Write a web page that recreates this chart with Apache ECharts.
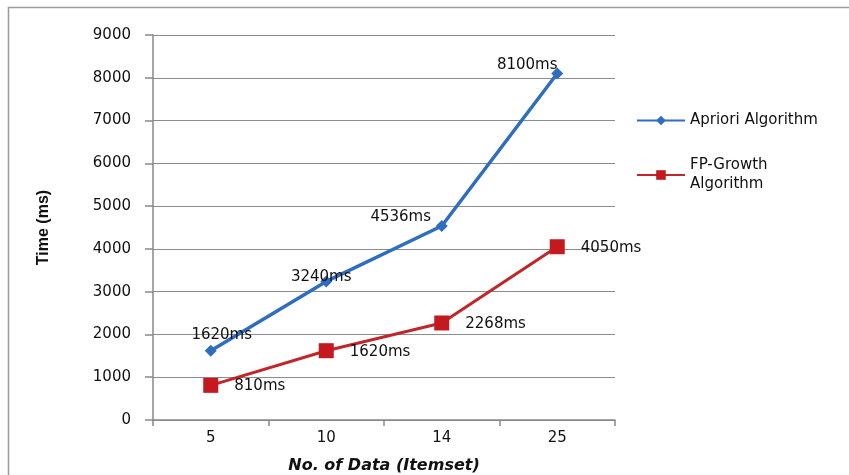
<!DOCTYPE html>
<html>
<head>
<meta charset="utf-8">
<script src="https://cdn.jsdelivr.net/npm/echarts@6/dist/echarts.min.js"></script>
<style>html,body{margin:0;padding:0;background:#fff}#c{width:849px;height:475px}</style>
</head>
<body>
<div id="c"></div>
<script>
var categories = ['5', '10', '14', '25'];
var aprioriValues = [1620, 3240, 4536, 8100];
var fpGrowthValues = [810, 1620, 2268, 4050];
var yTicks = { min: 0, max: 9000, interval: 1000 };
var aprioriLabelOffsets = [[11, 3], [-5, 14], [-41, 10], [-30, 10]];

var FONT = 'DejaVu Sans';
var chart = echarts.init(document.getElementById('c'), null, { renderer: 'canvas' });

function lbl(v) { return v + 'ms'; }

var aprData = aprioriValues.map(function (v, i) {
  return { value: v, label: { offset: aprioriLabelOffsets[i] } };
});

chart.setOption({
  animation: false,
  backgroundColor: '#fff',
  grid: { left: 153, right: 234, top: 35, bottom: 55, containLabel: false, outerBoundsMode: 'none' },
  graphic: [{
    type: 'rect', shape: { x: 8.5, y: 7.5, width: 900, height: 600 },
    style: { fill: 'none', stroke: '#9a9a9a', lineWidth: 1.5 }, silent: true
  }],
  legend: {
    orient: 'vertical', left: 631, top: 106, itemGap: 26,
    itemWidth: 48, itemHeight: 12,
    textStyle: { fontFamily: FONT, fontSize: 15, color: '#111', lineHeight: 19 },
    formatter: function (n) { return n === 'FP-Growth Algorithm' ? 'FP-Growth\nAlgorithm' : n; },
    data: ['Apriori Algorithm', 'FP-Growth Algorithm']
  },
  xAxis: {
    type: 'category', data: categories, boundaryGap: true,
    name: 'No. of Data (Itemset)', nameLocation: 'middle', nameGap: 38,
    nameTextStyle: { fontFamily: FONT, fontSize: 16, fontWeight: 'bold', fontStyle: 'italic', color: '#111' },
    axisLine: { lineStyle: { color: '#888', width: 1.5 } },
    axisTick: { show: true, length: 6, inside: false, lineStyle: { color: '#888', width: 1.5 } },
    axisLabel: { fontFamily: FONT, fontSize: 15, color: '#111', margin: 11 }
  },
  yAxis: {
    type: 'value', min: yTicks.min, max: yTicks.max, interval: yTicks.interval,
    name: 'Time (ms)', nameLocation: 'middle', nameGap: 101, nameRotate: 90,
    nameTextStyle: { fontFamily: 'Liberation Sans Narrow, Liberation Sans', fontSize: 16, fontWeight: 'bold', color: '#111' },
    axisLine: { show: true, lineStyle: { color: '#888', width: 1.5 } },
    axisTick: { show: true, length: 8, lineStyle: { color: '#888', width: 1.5 } },
    axisLabel: { fontFamily: FONT, fontSize: 15, color: '#111', margin: 22, formatter: function (v) { return String(v); } },
    splitLine: { lineStyle: { color: '#8c8c8c', width: 1.2 } }
  },
  series: [{
    name: 'Apriori Algorithm', type: 'line', data: aprData,
    symbol: 'diamond', symbolSize: 12,
    lineStyle: { color: '#2f6ebf', width: 3.5 },
    itemStyle: { color: '#2f6ebf' },
    label: { show: true, position: 'top', formatter: function (p) { return lbl(p.value); },
      fontFamily: FONT, fontSize: 15, color: '#111' }
  }, {
    name: 'FP-Growth Algorithm', type: 'line', data: fpGrowthValues,
    symbol: 'rect', symbolSize: 15,
    lineStyle: { color: '#c0262a', width: 3 },
    itemStyle: { color: '#c4191f' },
    label: { show: true, position: 'right', distance: 16, offset: [0, 1], formatter: function (p) { return lbl(p.value); },
      fontFamily: FONT, fontSize: 15, color: '#111' }
  }]
});
</script>
</body>
</html>
